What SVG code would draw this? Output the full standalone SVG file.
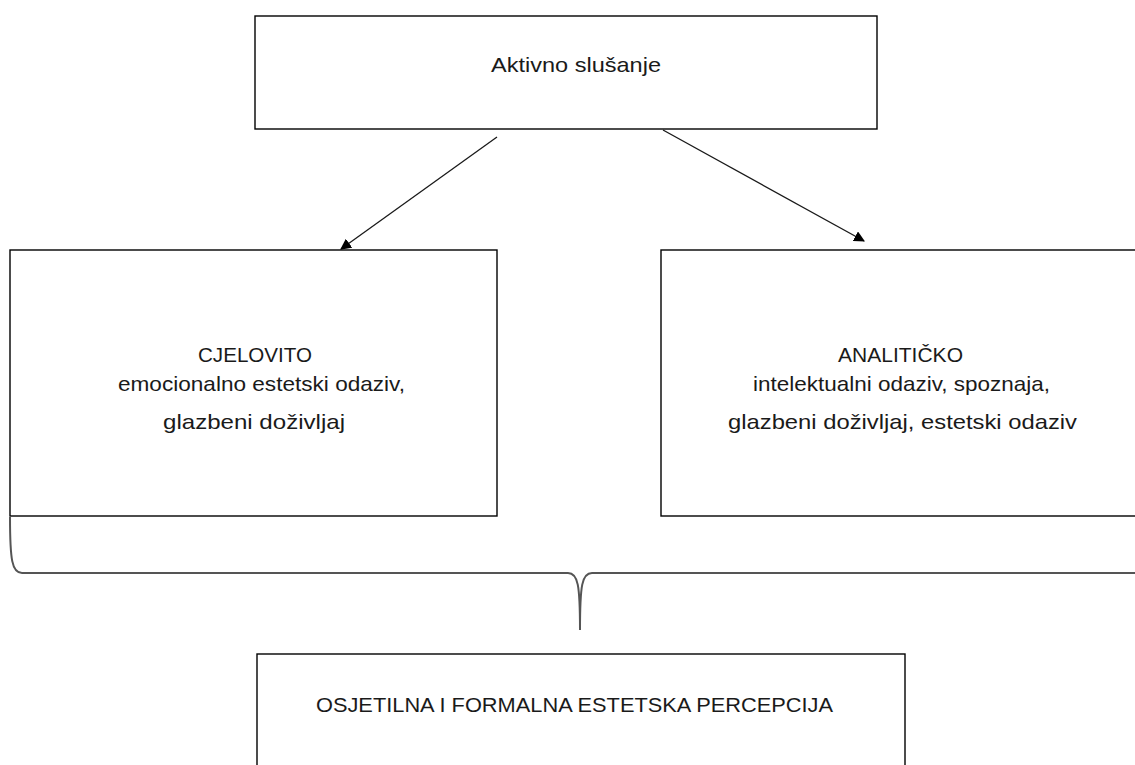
<svg xmlns="http://www.w3.org/2000/svg" width="1135" height="765" viewBox="0 0 1135 765">
<defs>
<style>
.box{fill:#fff;stroke:#000;stroke-width:1.4}
.t{font-family:"Liberation Sans",Arial,sans-serif;font-size:21px;fill:#1a1a1a}
.c{fill:none;stroke:#1a1a1a;stroke-width:1.3}
.br{fill:none;stroke:#555;stroke-width:2}
</style>
<marker id="ah" viewBox="0 0 10 10" refX="9" refY="5" markerWidth="11" markerHeight="11" markerUnits="userSpaceOnUse" orient="auto">
<path d="M0,0 L10,5 L0,10 z" fill="#000"/>
</marker>
</defs>
<rect width="1135" height="765" fill="#fff"/>
<g id="n-aktivno">
<rect class="box" x="255" y="16" width="622" height="113"/>
<text class="t" x="491" y="72" textLength="170" lengthAdjust="spacingAndGlyphs">Aktivno slušanje</text>
</g>
<g id="n-cjelovito">
<rect class="box" x="10" y="250" width="487" height="266"/>
<text class="t" x="198" y="362" textLength="114" lengthAdjust="spacingAndGlyphs">CJELOVITO</text>
<text class="t" x="118" y="391" textLength="287" lengthAdjust="spacingAndGlyphs">emocionalno estetski odaziv,</text>
<text class="t" x="163" y="429" textLength="182" lengthAdjust="spacingAndGlyphs">glazbeni doživljaj</text>
</g>
<g id="n-analiticko">
<rect class="box" x="661" y="250" width="490" height="266"/>
<text class="t" x="838" y="362" textLength="125" lengthAdjust="spacingAndGlyphs">ANALITIČKO</text>
<text class="t" x="753" y="391" textLength="297" lengthAdjust="spacingAndGlyphs">intelektualni odaziv, spoznaja,</text>
<text class="t" x="728" y="429" textLength="349" lengthAdjust="spacingAndGlyphs">glazbeni doživljaj, estetski odaziv</text>
</g>
<g id="n-percepcija">
<rect class="box" x="257" y="654" width="648" height="130"/>
<text class="t" x="316" y="712" textLength="517" lengthAdjust="spacingAndGlyphs">OSJETILNA I FORMALNA ESTETSKA PERCEPCIJA</text>
</g>
<g id="connectors">
<line class="c" x1="497" y1="137" x2="341" y2="249" marker-end="url(#ah)"/>
<line class="c" x1="663" y1="130" x2="864" y2="241" marker-end="url(#ah)"/>
<path class="br" d="M10,517 C10,560 12,573 22,573 L568,573 C578,573 580,585 580,630 C580,585 582,573 592,573 L1135,573"/>
</g>
</svg>
